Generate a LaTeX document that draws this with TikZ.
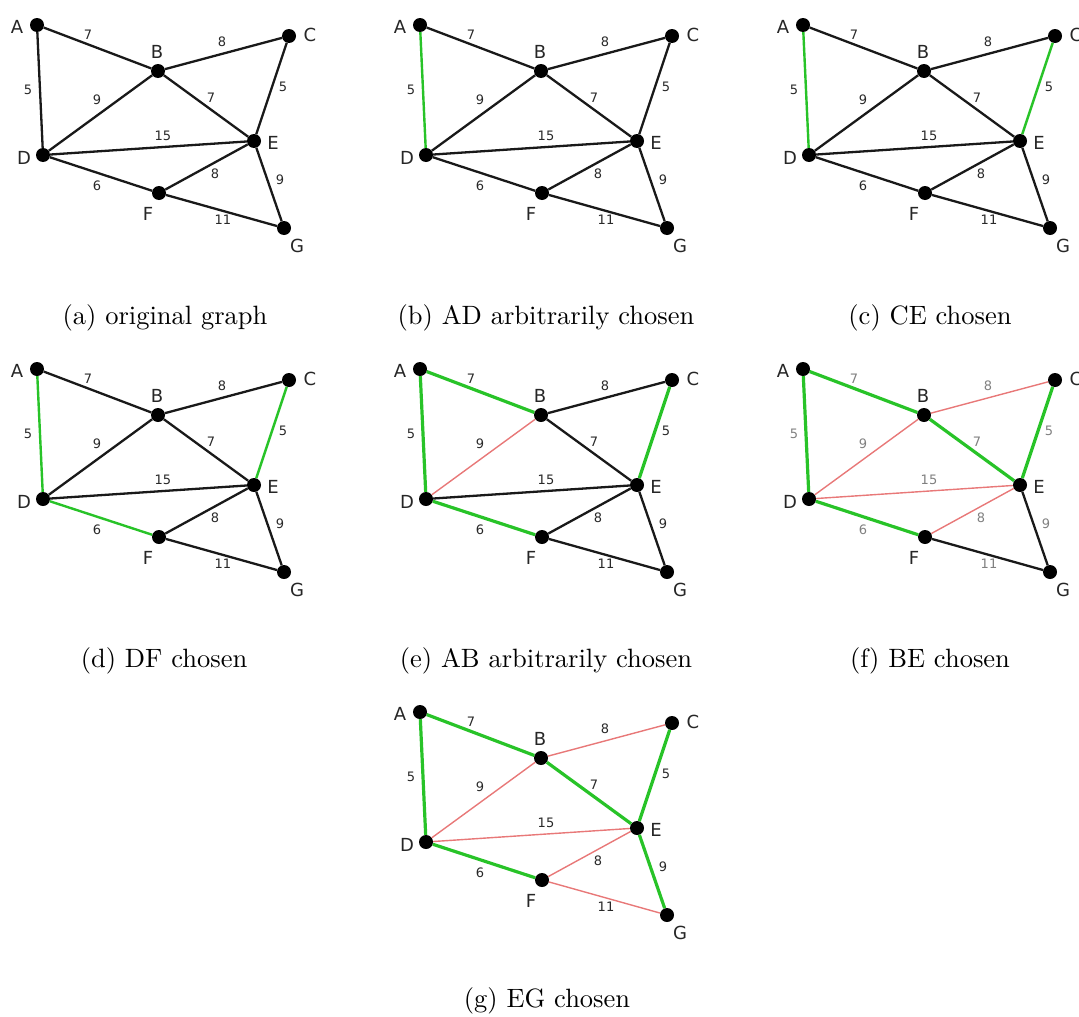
\documentclass[tikz,border=0pt]{standalone}
\usepackage{fontspec}
\newfontfamily\lblfont{DejaVu Sans}
\definecolor{mstgreen}{RGB}{40,195,40}
\definecolor{mstred}{RGB}{232,120,120}
\definecolor{wtgray}{RGB}{40,40,40}
\tikzset{
  vtx/.style={circle,fill=black,inner sep=0pt,minimum size=14pt},
  vlbl/.style={font=\lblfont\fontsize{18}{18}\selectfont,text=black!85,inner sep=0pt},
  wt/.style={font=\lblfont\fontsize{13}{13}\selectfont,text=wtgray,inner sep=0pt},
  blk/.style={draw=black!90,line width=2.3pt},
  grnthin/.style={draw=mstgreen,line width=2.4pt},
  grn/.style={draw=mstgreen,line width=3.2pt},
  rd/.style={draw=mstred,line width=1.4pt},
  eAB/.style=blk, eAD/.style=blk, eBC/.style=blk, eBD/.style=blk,
  eBE/.style=blk, eCE/.style=blk, eDE/.style=blk, eDF/.style=blk,
  eEF/.style=blk, eEG/.style=blk, eFG/.style=blk,
  captext/.style={anchor=base,inner sep=0pt}
}
\newcommand\kgraph[1]{%
  \node[vtx] (#1A) at (37,25) {};
  \node[vtx] (#1B) at (158,71) {};
  \node[vtx] (#1C) at (289,36) {};
  \node[vtx] (#1D) at (43,155) {};
  \node[vtx] (#1E) at (254,141) {};
  \node[vtx] (#1F) at (159,193) {};
  \node[vtx] (#1G) at (284,228) {};
  \node[vlbl] (#1lA) at (17,27) {A};
  \node[vlbl] (#1lB) at (157,52) {B};
  \node[vlbl] (#1lC) at (310,35) {C};
  \node[vlbl] (#1lD) at (24,158) {D};
  \node[vlbl] (#1lE) at (273,143) {E};
  \node[vlbl] (#1lF) at (148,214) {F};
  \node[vlbl] (#1lG) at (297,246) {G};
  \draw[eAB] (#1A) -- (#1B);
  \draw[eAD] (#1A) -- (#1D);
  \draw[eBC] (#1B) -- (#1C);
  \draw[eBD] (#1B) -- (#1D);
  \draw[eBE] (#1B) -- (#1E);
  \draw[eCE] (#1C) -- (#1E);
  \draw[eDE] (#1D) -- (#1E);
  \draw[eDF] (#1D) -- (#1F);
  \draw[eEF] (#1E) -- (#1F);
  \draw[eEG] (#1E) -- (#1G);
  \draw[eFG] (#1F) -- (#1G);
  \node[wt] (#1wAB) at (88,35) {7};
  \node[wt] (#1wBC) at (222,42) {8};
  \node[wt] (#1wAD) at (28,90) {5};
  \node[wt] (#1wBD) at (97,100) {9};
  \node[wt] (#1wBE) at (211,98) {7};
  \node[wt] (#1wCE) at (283,87) {5};
  \node[wt] (#1wDE) at (163,136) {15};
  \node[wt] (#1wEF) at (215,174) {8};
  \node[wt] (#1wEG) at (280,180) {9};
  \node[wt] (#1wDF) at (97,186) {6};
  \node[wt] (#1wFG) at (223,220) {11};
}
\begin{document}
\begin{tikzpicture}[x=1pt,y=-1pt]
\useasboundingbox (0,0) rectangle (1079,1017);
% (a)
\begin{scope}
  \kgraph{a}
\end{scope}
\node[captext] (capa) at (165,324) {\scalebox{2.65}{(a) original graph}};
% (b)
\begin{scope}[shift={(383,0)}, eAD/.style=grnthin]
  \kgraph{b}
\end{scope}
\node[captext] (capb) at (546,324) {\scalebox{2.65}{(b) AD arbitrarily chosen}};
% (c)
\begin{scope}[shift={(766,0)}, eAD/.style=grnthin, eCE/.style=grnthin]
  \kgraph{c}
\end{scope}
\node[captext] (capc) at (930,324) {\scalebox{2.65}{(c) CE chosen}};
% (d)
\begin{scope}[shift={(0,344)}, eAD/.style=grnthin, eCE/.style=grnthin, eDF/.style=grnthin]
  \kgraph{d}
\end{scope}
\node[captext] (capd) at (164,667) {\scalebox{2.65}{(d) DF chosen}};
% (e)
\begin{scope}[shift={(383,344)}, eAD/.style=grn, eCE/.style=grn, eDF/.style=grn, eAB/.style=grn, eBD/.style=rd]
  \kgraph{e}
\end{scope}
\node[captext] (cape) at (546,667) {\scalebox{2.65}{(e) AB arbitrarily chosen}};
% (f)
\begin{scope}[shift={(766,344)}, eAD/.style=grn, eCE/.style=grn, eDF/.style=grn, eAB/.style=grn, eBE/.style=grn,
  eBD/.style=rd, eBC/.style=rd, eDE/.style=rd, eEF/.style=rd, wt/.append style={text=black!50}]
  \kgraph{f}
\end{scope}
\node[captext] (capf) at (930,667) {\scalebox{2.65}{(f) BE chosen}};
% (g)
\begin{scope}[shift={(383,687)}, eAD/.style=grn, eCE/.style=grn, eDF/.style=grn, eAB/.style=grn, eBE/.style=grn, eEG/.style=grn,
  eBD/.style=rd, eBC/.style=rd, eDE/.style=rd, eEF/.style=rd, eFG/.style=rd]
  \kgraph{g}
\end{scope}
\node[captext] (capg) at (547,1007) {\scalebox{2.65}{(g) EG chosen}};
\end{tikzpicture}
\end{document}
